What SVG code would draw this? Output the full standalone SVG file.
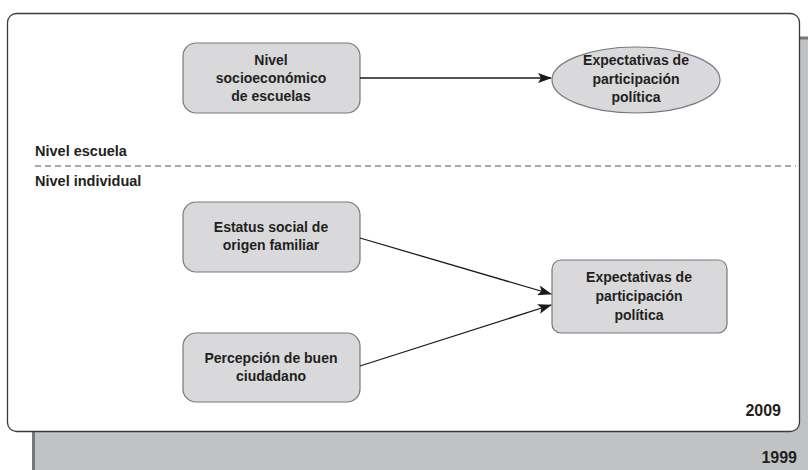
<svg xmlns="http://www.w3.org/2000/svg" width="808" height="470" viewBox="0 0 808 470">
<defs>
<marker id="ah" markerWidth="14" markerHeight="10" refX="13" refY="5" orient="auto" markerUnits="userSpaceOnUse">
<path d="M0,0 L14,5 L0,10 L3,5 Z" fill="#1a1a1a"/>
</marker>
<style>
.t{font-family:"Liberation Sans",Arial,sans-serif;font-weight:bold;fill:#231f20;}
.n{font-size:14px;text-anchor:middle;}
.box{fill:#d9d9db;stroke:#77787a;stroke-width:1.2;}
.lbl{font-size:14.5px;}
.yr{font-size:16px;text-anchor:end;}
.c{stroke:#1a1a1a;stroke-width:1.3;fill:none;marker-end:url(#ah);}
</style>
</defs>
<rect width="808" height="470" fill="#ffffff"/>
<g id="panel1999">
<rect x="33" y="37" width="790" height="450" fill="#c1c2c4"/>
<line x1="33" y1="38" x2="808" y2="38" stroke="#77787a" stroke-width="3"/>
<line x1="33.5" y1="37" x2="33.5" y2="470" stroke="#77787a" stroke-width="3"/>
<text class="t yr" x="797" y="463">1999</text>
</g>
<g id="panel2009">
<rect x="7.5" y="13.5" width="792" height="418" rx="9" fill="#ffffff" stroke="#3a3a3a" stroke-width="1.3"/>
<text class="t yr" x="781" y="416">2009</text>
</g>
<g id="levels">
<text class="t lbl" x="35" y="156">Nivel escuela</text>
<line x1="35" y1="166" x2="796" y2="166" stroke="#555" stroke-width="1.2" stroke-dasharray="6,4"/>
<text class="t lbl" x="35" y="186">Nivel individual</text>
</g>
<g id="n_nse">
<rect class="box" x="183" y="43" width="177" height="70" rx="13"/>
<text class="t n" x="271" y="65">Nivel</text>
<text class="t n" x="271" y="83">socioeconómico</text>
<text class="t n" x="271" y="101">de escuelas</text>
</g>
<g id="n_exp_school">
<ellipse class="box" cx="636" cy="80" rx="84" ry="33"/>
<text class="t n" x="636" y="65">Expectativas de</text>
<text class="t n" x="636" y="84">participación</text>
<text class="t n" x="636" y="102">política</text>
</g>
<g id="n_estatus">
<rect class="box" x="183" y="202" width="177" height="70" rx="13"/>
<text class="t n" x="271" y="232">Estatus social de</text>
<text class="t n" x="271" y="250">origen familiar</text>
</g>
<g id="n_percepcion">
<rect class="box" x="183" y="333" width="177" height="69" rx="13"/>
<text class="t n" x="271" y="363">Percepción de buen</text>
<text class="t n" x="271" y="381">ciudadano</text>
</g>
<g id="n_exp_ind">
<rect class="box" x="552" y="260" width="175" height="73" rx="9"/>
<text class="t n" x="639" y="282">Expectativas de</text>
<text class="t n" x="639" y="301">participación</text>
<text class="t n" x="639" y="320">política</text>
</g>
<g id="connectors">
<line class="c" x1="360" y1="78" x2="551" y2="78"/>
<line class="c" x1="360" y1="238" x2="551" y2="294"/>
<line class="c" x1="360" y1="366" x2="551" y2="305"/>
</g>
</svg>
